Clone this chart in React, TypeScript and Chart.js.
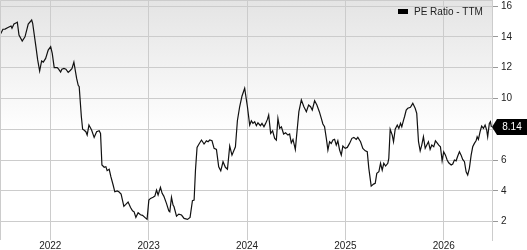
import React, { useEffect, useRef } from "react";
import { Chart, registerables } from "chart.js";

Chart.register(...registerables);

const SERIES_LABEL = "PE Ratio - TTM";
const YEAR_TICKS = [2022, 2023, 2024, 2025, 2026];
const VALUE_TICKS = [2, 4, 6, 8, 10, 12, 14, 16];
const X_MIN = 2021.489;
const X_MAX = 2026.49;
const Y_MIN = 0.81;
const Y_MAX = 16.39;

const DATES = [
  2021.489, 2021.519, 2021.54, 2021.57, 2021.601, 2021.611, 2021.631, 2021.651, 2021.665, 2021.682,
  2021.715, 2021.743, 2021.776, 2021.811, 2021.821, 2021.854, 2021.872, 2021.892, 2021.912, 2021.929,
  2021.953, 2021.979, 2022.004, 2022.02, 2022.04, 2022.071, 2022.085, 2022.105, 2022.118, 2022.139,
  2022.159, 2022.182, 2022.2, 2022.22, 2022.24, 2022.268, 2022.284, 2022.294, 2022.316, 2022.329,
  2022.342, 2022.362, 2022.375, 2022.393, 2022.42, 2022.446, 2022.471, 2022.497, 2022.511, 2022.525,
  2022.548, 2022.565, 2022.578, 2022.599, 2022.616, 2022.639, 2022.656, 2022.68, 2022.697, 2022.72,
  2022.748, 2022.768, 2022.791, 2022.816, 2022.836, 2022.852, 2022.87, 2022.893, 2022.917, 2022.938,
  2022.961, 2022.984, 2023.002, 2023.019, 2023.045, 2023.063, 2023.08, 2023.096, 2023.12, 2023.137,
  2023.154, 2023.181, 2023.205, 2023.215, 2023.232, 2023.248, 2023.258, 2023.283, 2023.306, 2023.334,
  2023.36, 2023.395, 2023.421, 2023.445, 2023.462, 2023.476, 2023.492, 2023.512, 2023.537, 2023.563,
  2023.587, 2023.604, 2023.621, 2023.644, 2023.665, 2023.689, 2023.712, 2023.733, 2023.756, 2023.78,
  2023.801, 2023.824, 2023.847, 2023.882, 2023.902, 2023.925, 2023.949, 2023.976, 2024.004, 2024.027,
  2024.044, 2024.06, 2024.078, 2024.095, 2024.111, 2024.136, 2024.152, 2024.172, 2024.189, 2024.207,
  2024.22, 2024.24, 2024.26, 2024.281, 2024.298, 2024.314, 2024.332, 2024.349, 2024.372, 2024.392,
  2024.416, 2024.433, 2024.45, 2024.467, 2024.491, 2024.511, 2024.527, 2024.552, 2024.578, 2024.603,
  2024.626, 2024.646, 2024.663, 2024.687, 2024.71, 2024.735, 2024.755, 2024.771, 2024.788, 2024.806,
  2024.822, 2024.839, 2024.856, 2024.873, 2024.89, 2024.907, 2024.923, 2024.941, 2024.958, 2024.974,
  2024.998, 2025.019, 2025.042, 2025.066, 2025.086, 2025.11, 2025.126, 2025.154, 2025.177, 2025.202,
  2025.222, 2025.238, 2025.262, 2025.286, 2025.303, 2025.319, 2025.34, 2025.357, 2025.374, 2025.39,
  2025.408, 2025.431, 2025.441, 2025.455, 2025.476, 2025.489, 2025.506, 2025.527, 2025.543, 2025.56,
  2025.573, 2025.593, 2025.601, 2025.618, 2025.634, 2025.661, 2025.685, 2025.709, 2025.725, 2025.743,
  2025.76, 2025.776, 2025.793, 2025.811, 2025.827, 2025.844, 2025.861, 2025.878, 2025.898, 2025.915,
  2025.932, 2025.949, 2025.966, 2025.983, 2025.999, 2026.017, 2026.034, 2026.05, 2026.075, 2026.091,
  2026.108, 2026.125, 2026.142, 2026.159, 2026.176, 2026.192, 2026.21, 2026.227, 2026.243, 2026.26,
  2026.278, 2026.294, 2026.311, 2026.328, 2026.339, 2026.352, 2026.369, 2026.385, 2026.403, 2026.42,
  2026.436, 2026.446, 2026.463, 2026.474, 2026.484,
];

const PE = [
  14.12, 14.49, 14.5, 14.6, 14.7, 14.55, 14.83, 14.9, 14.95, 14.12,
  13.73, 14.0, 14.83, 15.09, 14.88, 13.36, 12.5, 11.78, 12.43, 12.36,
  12.6, 13.14, 13.36, 12.93, 12.0, 12.0, 11.9, 11.71, 11.9, 11.95,
  11.9, 11.69, 11.8, 11.93, 12.36, 11.3, 10.85, 10.76, 8.81, 8.0,
  7.95, 7.84, 7.62, 8.27, 7.95, 7.47, 7.84, 7.9, 7.73, 5.68,
  5.53, 5.57, 5.31, 5.4, 4.92, 4.38, 3.94, 4.0, 3.94, 3.79,
  3.0, 3.12, 3.27, 2.92, 2.7, 2.64, 2.28, 2.58, 2.45, 2.41,
  2.28, 2.15, 3.4, 3.51, 3.58, 3.66, 4.05, 3.73, 4.23, 3.84,
  3.66, 3.19, 2.7, 2.64, 3.58, 3.08, 2.97, 2.36, 2.49, 2.43,
  2.21, 2.15, 2.28, 3.36, 3.4, 5.35, 6.82, 7.04, 7.3, 7.04,
  7.25, 7.19, 7.3, 7.25, 6.76, 6.69, 5.56, 5.3, 5.89, 5.53,
  5.4, 6.91, 6.32, 6.86, 8.55, 9.46, 10.16, 10.66, 9.46, 8.27,
  8.55, 8.38, 8.49, 8.23, 8.42, 8.23, 8.38, 8.16, 8.38, 8.64,
  8.92, 7.73, 7.9, 7.41, 7.3, 8.71, 8.06, 8.16, 7.69, 7.77,
  7.62, 7.69, 7.12, 7.34, 6.69, 8.06, 9.14, 9.9, 9.46, 9.14,
  9.57, 9.46, 9.25, 9.85, 9.57, 9.14, 8.71, 8.34, 8.16, 7.41,
  6.65, 7.19, 7.08, 7.3, 7.34, 6.97, 7.25, 6.65, 6.32, 6.91,
  6.76, 6.82, 7.08, 7.41, 7.47, 7.34, 7.47, 7.19, 6.76, 6.6,
  6.54, 5.46, 4.31, 4.44, 4.49, 5.14, 5.24, 5.79, 5.35, 5.79,
  5.61, 5.79, 6.11, 8.0, 7.62, 7.19, 8.0, 8.27, 8.06, 8.38,
  8.16, 8.64, 8.81, 9.25, 9.36, 9.42, 9.68, 9.36, 9.03, 7.19,
  6.6, 6.97, 7.51, 6.76, 6.97, 7.19, 6.69, 6.97, 6.86, 7.25,
  7.12, 6.97, 6.86, 5.95, 6.54, 6.32, 6.0, 5.82, 5.68, 5.74,
  6.0, 5.95, 6.26, 6.54, 6.32, 6.04, 5.89, 5.24, 5.03, 5.46,
  6.32, 6.86, 7.08, 7.25, 7.51, 7.34, 7.84, 8.21, 8.06, 8.27,
  7.95, 7.51, 8.38, 8.49, 8.14,
];

const FONT = "'Liberation Sans', Arial, Helvetica, sans-serif";

const backgroundPlugin = {
  id: "bgGradient",
  beforeDraw(chart: any) {
    const { ctx, chartArea } = chart;
    if (!chartArea) return;
    const { left, top, right, bottom } = chartArea;
    const g = ctx.createLinearGradient(0, top, 0, bottom);
    g.addColorStop(0, "#e4e4e4");
    g.addColorStop(0.55, "#ffffff");
    g.addColorStop(1, "#ffffff");
    ctx.save();
    ctx.fillStyle = g;
    ctx.fillRect(left, top, right - left, bottom - top);
    ctx.restore();
  },
  afterDatasetsDraw(chart: any) {
    const { ctx, chartArea } = chart;
    const { left, top, right, bottom } = chartArea;
    ctx.save();
    ctx.strokeStyle = "#cccccc";
    ctx.lineWidth = 1;
    ctx.beginPath();
    ctx.moveTo(left + 0.5, bottom);
    ctx.lineTo(left + 0.5, top + 0.5);
    ctx.lineTo(right, top + 0.5);
    ctx.stroke();
    ctx.restore();
  },
};

const overlayPlugin = {
  id: "overlay",
  afterDraw(chart: any) {
    const { ctx, chartArea, scales } = chart;
    ctx.save();
    // legend
    ctx.fillStyle = "#000";
    ctx.fillRect(398, 9, 10, 5);
    ctx.font = `10px ${FONT}`;
    ctx.fillStyle = "#222";
    ctx.textBaseline = "middle";
    ctx.textAlign = "left";
    ctx.fillText(SERIES_LABEL, 414, 12);

    // last value marker
    const last = PE[PE.length - 1];
    const y = Math.round(scales.y.getPixelForValue(last));
    const x0 = chartArea.right;
    ctx.fillStyle = "#000";
    ctx.beginPath();
    ctx.moveTo(x0, y);
    ctx.lineTo(x0 + 5, y - 8);
    ctx.lineTo(527, y - 8);
    ctx.lineTo(527, y + 8);
    ctx.lineTo(x0 + 5, y + 8);
    ctx.closePath();
    ctx.fill();
    ctx.fillStyle = "#fff";
    ctx.textAlign = "center";
    ctx.fillText(last.toFixed(2), 512, y + 0.5);
    ctx.restore();
  },
};

export default function App() {
  const ref = useRef<HTMLCanvasElement | null>(null);

  useEffect(() => {
    document.body.style.margin = "0";
    if (!ref.current) return;
    const chart = new Chart(ref.current, {
      type: "line",
      data: {
        datasets: [
          {
            label: SERIES_LABEL,
            data: DATES.map((d, i) => ({ x: d, y: PE[i] })),
            borderColor: "#111",
            borderWidth: 1.2,
            pointRadius: 0,
            tension: 0,
            fill: false,
          },
        ],
      },
      options: {
        animation: false,
        responsive: false,
        devicePixelRatio: 1,
        layout: { padding: 0 },
        plugins: {
          legend: { display: false },
          tooltip: { enabled: false },
        },
        scales: {
          x: {
            type: "linear",
            min: X_MIN,
            max: X_MAX,
            afterBuildTicks: (s: any) => {
              s.ticks = YEAR_TICKS.map((v) => ({ value: v }));
            },
            afterFit: (s: any) => {
              s.height = 10;
              s.paddingLeft = 0;
              s.paddingRight = 0;
              s.paddingTop = 0;
              s.paddingBottom = 0;
            },
            ticks: {
              autoSkip: false,
              maxRotation: 0,
              padding: 0,
              color: "#222",
              font: { family: FONT, size: 10 },
              callback: (v: any) => String(v),
            },
            grid: { color: "#cccccc", drawTicks: false, lineWidth: 1 },
            border: { display: false },
          },
          y: {
            type: "linear",
            position: "right",
            min: Y_MIN,
            max: Y_MAX,
            afterBuildTicks: (s: any) => {
              s.ticks = VALUE_TICKS.map((v) => ({ value: v }));
            },
            afterFit: (s: any) => {
              s.width = 35;
              s.paddingTop = 0;
              s.paddingBottom = 0;
              s.paddingLeft = 0;
              s.paddingRight = 0;
            },
            ticks: {
              padding: 3,
              color: "#222",
              font: { family: FONT, size: 10 },
              callback: (v: any) => String(v),
            },
            grid: {
              color: "#cccccc",
              drawTicks: true,
              tickLength: 6,
              tickColor: "#999999",
              lineWidth: 1,
            },
            border: { display: true, color: "#cccccc" },
          },
        },
      },
      plugins: [backgroundPlugin, overlayPlugin],
    });
    return () => chart.destroy();
  }, []);

  return (
    <div style={{ width: 527, height: 250 }}>
      <canvas ref={ref} width={527} height={250} style={{ display: "block", width: 527, height: 250 }} />
    </div>
  );
}
